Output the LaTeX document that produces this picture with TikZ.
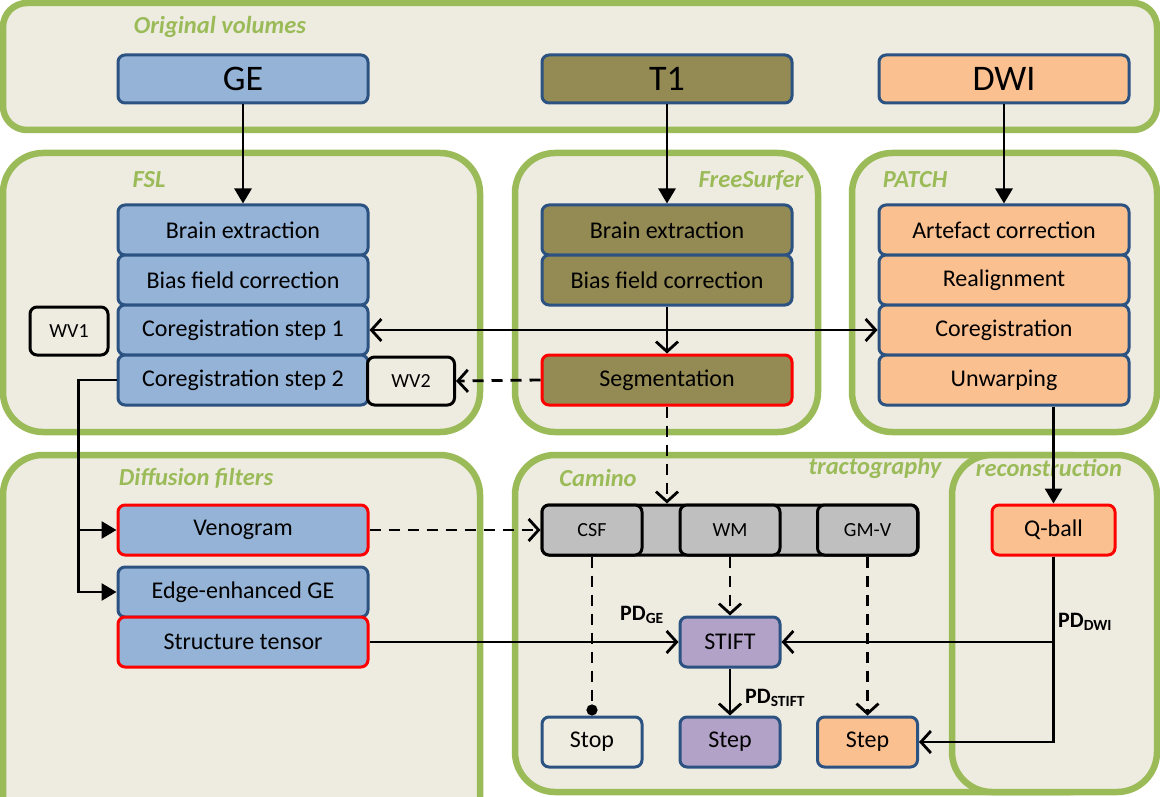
\documentclass[tikz,border=0pt]{standalone}
\usepackage{fontspec}
\setmainfont{Carlito}
\usetikzlibrary{arrows.meta}

\definecolor{grpgreen}{HTML}{9BBB59}
\definecolor{grpfill}{HTML}{EEECE1}
\definecolor{geblue}{HTML}{95B3D7}
\definecolor{boxline}{HTML}{2C5282}
\definecolor{tolive}{HTML}{948A54}
\definecolor{dwiorange}{HTML}{FAC090}
\definecolor{segred}{HTML}{FF0000}
\definecolor{tractgray}{HTML}{BFBFBF}
\definecolor{stiftpurple}{HTML}{B2A2C7}

\tikzset{
  group/.style={draw=grpgreen, fill=grpfill, line width=6.5pt, rounded corners=40pt},
  grouplabel/.style={text=grpgreen, inner sep=0pt,
    font=\fontsize{24.5}{27}\selectfont\bfseries\itshape},
  volbox/.style={draw=boxline, line width=3pt, rounded corners=7pt,
    minimum width=250pt, minimum height=48pt, inner sep=0pt,
    font=\fontsize{36}{38}\selectfont},
  proc/.style={draw=boxline, line width=3pt, rounded corners=7pt,
    minimum width=250pt, minimum height=50pt, inner sep=0pt,
    font=\fontsize{24}{27}\selectfont},
  keybox/.style={proc, draw=segred},
  smallbox/.style={draw=black, line width=3pt, rounded corners=7pt, fill=grpfill,
    minimum height=48pt, inner sep=0pt, font=\fontsize{20}{22}\selectfont},
  tissue/.style={draw=black, line width=3pt, rounded corners=7pt, fill=tractgray,
    minimum width=100pt, minimum height=50pt, inner sep=0pt,
    font=\fontsize{20}{22}\selectfont},
  tractbox/.style={draw=boxline, line width=3pt, rounded corners=7pt,
    minimum width=100pt, minimum height=50pt, inner sep=0pt,
    font=\fontsize{24}{27}\selectfont},
  pdlabel/.style={inner sep=0pt, font=\fontsize{22}{24}\selectfont\bfseries},
  link/.style={draw=black, line width=2.8pt},
  fillarrow/.style={link, -{Triangle[length=15pt,width=17pt]}},
  openarrow/.style={link, -{Straight Barb[length=10pt,width=22pt,line width=2.8pt]}},
  dashlink/.style={link, dash pattern=on 11pt off 8pt},
}
\newcommand{\pdsub}[1]{PD{\fontsize{15.5}{16}\selectfont\raisebox{-3.5pt}{#1}}}

\begin{document}
\begin{tikzpicture}[x=1pt,y=-1pt]
  \useasboundingbox (0,0) rectangle (1160,797);
  \clip (0,0) rectangle (1160,797);

  % processing groups
  \path[group, rounded corners=24pt] (3,3) rectangle (1157,130);
  \path[group] (3,153) rectangle (480,432);
  \path[group] (515,153) rectangle (818,432);
  \path[group] (852,153) rectangle (1157,432);
  \path[group] (3,455) rectangle (480,850);
  \path[group] (515,455) rectangle (1110,792);
  \path[group] (952,455) rectangle (1157,792);

  % group titles
  \node[grouplabel] (tOrig)  at (220,27)  {Original volumes};
  \node[grouplabel] (tFSL)   at (149,180) {FSL};
  \node[grouplabel] (tFS)    at (751,180) {FreeSurfer};
  \node[grouplabel] (tPatch) at (915,180) {PATCH};
  \node[grouplabel] (tDiff)  at (196,478) {Diffusion filters};
  \node[grouplabel] (tCam)   at (598,478) {Camino};
  \node[grouplabel] (tTract) at (875,468) {tractography};
  \node[grouplabel] (tRec)   at (1049,468) {reconstruction};

  % original volumes
  \node[volbox, fill=geblue]    (ge)  at (243,79)  {GE};
  \node[volbox, fill=tolive]    (t1)  at (667,79)  {T1};
  \node[volbox, fill=dwiorange] (dwi) at (1004,79) {DWI};

  % FSL
  \node[proc, fill=geblue] (fslbrain) at (243,230) {Brain extraction};
  \node[proc, fill=geblue] (fslbias)  at (243,280) {Bias field correction};
  \node[proc, fill=geblue] (coreg1)   at (243,330) {Coregistration step 1};
  \node[proc, fill=geblue] (coreg2)   at (243,380) {Coregistration step 2};
  \node[smallbox, minimum width=78pt] (wv1) at (69,331) {WV1};
  \node[smallbox, minimum width=87pt] (wv2) at (411,381) {WV2};

  % FreeSurfer
  \node[proc, fill=tolive] (fsbrain) at (667,230) {Brain extraction};
  \node[proc, fill=tolive] (fsbias)  at (667,280) {Bias field correction};
  \node[keybox, fill=tolive] (seg)   at (667,380) {Segmentation};

  % PATCH
  \node[proc, fill=dwiorange] (artef)  at (1004,230) {Artefact correction};
  \node[proc, fill=dwiorange] (realign) at (1004,280) {Realignment};
  \node[proc, fill=dwiorange] (pcoreg) at (1004,330) {Coregistration};
  \node[proc, fill=dwiorange] (unwarp) at (1004,380) {Unwarping};

  % diffusion filters
  \node[keybox, fill=geblue] (veno)   at (243,530) {Venogram};
  \node[proc,   fill=geblue] (edge)   at (243,592) {Edge-enhanced GE};
  \node[keybox, fill=geblue] (tensor) at (243,642) {Structure tensor};

  % Camino tractography
  \node[tissue, minimum width=376pt] (bar) at (730,530) {};
  \node[tissue] (csf) at (592,530) {CSF};
  \node[tissue] (wm)  at (730,530) {WM};
  \node[tissue] (gmv) at (867.5,530) {GM-V};
  \node[tractbox, fill=stiftpurple] (stift) at (730,642) {STIFT};
  \node[tractbox, fill=grpfill]     (stop)  at (592,742) {Stop};
  \node[tractbox, fill=stiftpurple] (stepp) at (730,742) {Step};
  \node[tractbox, fill=dwiorange]   (stepo) at (867.5,742) {Step};

  % reconstruction
  \node[tractbox, draw=segred, fill=dwiorange, minimum width=123pt] (qball) at (1053.5,530) {Q-ball};

  % connectors
  \draw[fillarrow] (ge.south)  -- (fslbrain.north);
  \draw[fillarrow] (t1.south)  -- (fsbrain.north);
  \draw[fillarrow] (dwi.south) -- (artef.north);
  \draw[openarrow] (fsbias.south) -- (seg.north);
  \draw[link, {Straight Barb[length=10pt,width=22pt,line width=2.8pt]}-{Straight Barb[length=10pt,width=22pt,line width=2.8pt]}]
    (coreg1.east) -- (pcoreg.west);
  \draw[openarrow, dashlink] (seg.west) -- (wv2.east);
  \draw[openarrow, dashlink] (seg.south) -- (seg.south |- bar.north);
  \draw[fillarrow] (coreg2.west) -- ++(-38,0) |- (veno.west);
  \draw[fillarrow] (coreg2.west) -- ++(-38,0) |- (edge.west);
  \draw[openarrow, dashlink] (veno.east) -- (bar.west);
  \draw[openarrow] (tensor.east) -- (stift.west);
  \draw[openarrow, dashlink] (wm.south) -- (stift.north);
  \draw[link, dash pattern=on 11pt off 8pt, -{Circle[length=11pt]}] (csf.south) -- (stop.north);
  \draw[openarrow, dashlink] (gmv.south) -- (stepo.north);
  \draw[openarrow] (stift.south) -- (stepp.north);
  \draw[fillarrow] (unwarp.south -| qball.north) -- (qball.north);
  \draw[openarrow] (qball.south) |- (stepo.east);
  \draw[openarrow] (qball.south) |- (stift.east);

  % PD labels
  \node[pdlabel, anchor=base west] (pdge)    at (620,620)  {\pdsub{GE}};
  \node[pdlabel, anchor=base west] (pdstift) at (745,703)  {\pdsub{STIFT}};
  \node[pdlabel, anchor=base west] (pddwi)   at (1058,627) {\pdsub{DWI}};
\end{tikzpicture}
\end{document}
